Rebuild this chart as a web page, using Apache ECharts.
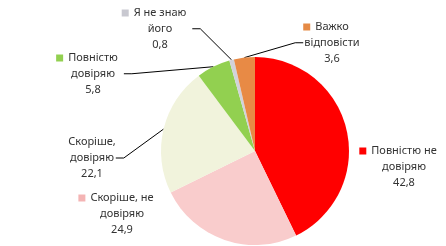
<!DOCTYPE html>
<html><head><meta charset="utf-8">
<script src="https://cdn.jsdelivr.net/npm/echarts@6/dist/echarts.min.js"></script>
<style>html,body{margin:0;padding:0;background:#fff}#c{width:446px;height:246px}</style>
</head><body><div id="c"></div>
<script>
var categories = ['Повністю не\nдовіряю', 'Скоріше, не\nдовіряю', 'Скоріше,\nдовіряю', 'Повністю\nдовіряю', 'Я не знаю\nйого', 'Важко\nвідповісти'];
var values = [42.8, 24.9, 22.1, 5.8, 0.8, 3.6];

var fills = ['#ff0000', '#f9cccc', '#f1f3dc', '#92d050', '#d2d2da', '#e88a45'];
var keyColors = ['#ff0000', '#f4b4b4', '#ffffff', '#92d050', '#c8c8d0', '#e58a45'];
var showKey = [true, true, false, true, true, true];
var showLine = [false, false, true, true, true, true];
var labelPos = [[404, 167], [122, 214], [92, 158], [93, 74], [160, 29], [332, 43]];

var data = values.map(function (v, i) {
  var parts = categories[i].split('\n');
  var first = showKey[i] ? '{k' + i + '|}{sp|}{t|' + parts[0] + '}{g|}' : '{t|' + parts[0] + '}';
  var txt = first + '\n{t|' + parts[1] + '}\n{t|' + String(v).replace('.', ',') + '}';
  var rich = {
    t: { fontSize: 11, lineHeight: 16, color: '#333', fontFamily: 'Noto Sans', align: 'center' },
    sp: { width: 5, align: 'center' },
    g: { width: 12, align: 'center' }
  };
  rich['k' + i] = { width: 7, height: 7, backgroundColor: keyColors[i], align: 'center' };
  return {
    name: categories[i], value: v,
    itemStyle: { color: fills[i] },
    label: { formatter: txt, rich: rich },
    labelLine: { show: showLine[i] }
  };
});

var chart = echarts.init(document.getElementById('c'), null, { renderer: 'canvas' });
chart.setOption({
  animation: false,
  series: [{
    type: 'pie',
    center: [255, 151],
    radius: 94,
    startAngle: 90,
    clockwise: true,
    data: data,
    label: { show: true, position: 'outside', align: 'center', overflow: 'none', width: 130, edgeDistance: 0 },
    labelLine: { show: true, smooth: false, length: 8, length2: 8, lineStyle: { color: '#000', width: 1 } },
    labelLayout: function (p) {
      var pos = labelPos[p.dataIndex];
      return { x: pos[0], y: pos[1], align: 'center', verticalAlign: 'middle' };
    }
  }]
});
</script></body></html>
